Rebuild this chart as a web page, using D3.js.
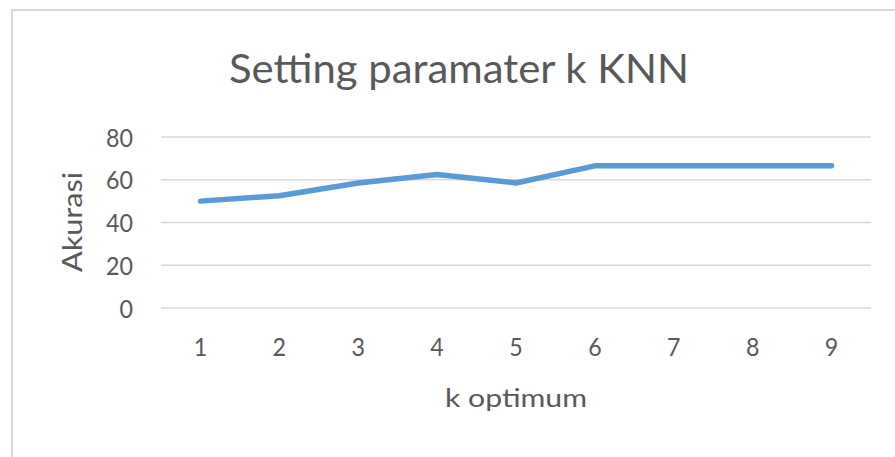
<!DOCTYPE html>
<html><head><meta charset="utf-8">
<script src="https://cdn.jsdelivr.net/npm/d3@7"></script>
<style>body{margin:0;background:#fff}svg{display:block}</style>
</head><body>
<script>
const categories = ["1","2","3","4","5","6","7","8","9"];
const accuracy = [50, 52.5, 58.5, 62.5, 58.5, 66.5, 66.5, 66.5, 66.5];
const yTicks = [0, 20, 40, 60, 80];
const title = "Setting paramater k KNN";
const xTitle = "k optimum";
const yTitle = "Akurasi";

const W = 895, H = 457;
const font = "Lato, 'Open Sans', sans-serif";
const textColor = "#595959";
const svg = d3.select("body").append("svg").attr("width", W).attr("height", H);

// frame
svg.append("rect").attr("x", 12).attr("y", 10).attr("width", W + 20).attr("height", H + 20)
  .attr("fill", "#fff").attr("stroke", "#d9d9d9").attr("stroke-width", 2);

const x = d3.scaleBand().domain(categories).range([161, 871]);
const y = d3.scaleLinear().domain([0, 80]).range([308, 137]);

// gridlines
svg.append("g").selectAll("line").data(yTicks).join("line")
  .attr("x1", 161).attr("x2", 871)
  .attr("y1", d => y(d)).attr("y2", d => y(d))
  .attr("stroke", "#d9d9d9").attr("stroke-width", 1.5);

// y axis labels
const yAxis = svg.append("g").attr("transform", "translate(133,0)")
  .call(d3.axisLeft(y).tickValues(yTicks).tickSize(0).tickPadding(0));
yAxis.select(".domain").remove();
yAxis.selectAll("text").attr("font-family", font).attr("font-size", 25)
  .attr("fill", textColor).attr("dy", "0.36em")
  .attr("textLength", d => String(d).length * 13.5).attr("lengthAdjust", "spacingAndGlyphs");

// x axis labels
const xAxis = svg.append("g").attr("transform", "translate(0,338)")
  .call(d3.axisBottom(x).tickSize(0).tickPadding(0));
xAxis.select(".domain").remove();
xAxis.selectAll("text").attr("font-family", font).attr("font-size", 25)
  .attr("fill", textColor).attr("dy", "0.71em")
  .attr("textLength", 13.5).attr("lengthAdjust", "spacingAndGlyphs");

// line
const line = d3.line().x((d, i) => x(categories[i]) + x.bandwidth() / 2).y(d => y(d));
svg.append("path").datum(accuracy).attr("d", line)
  .attr("fill", "none").attr("stroke", "#5b9bd5").attr("stroke-width", 5.5)
  .attr("stroke-linecap", "round").attr("stroke-linejoin", "round");

// titles
svg.append("text").attr("x", 459).attr("y", 83).attr("text-anchor", "middle")
  .attr("font-family", font).attr("font-size", 41).attr("fill", textColor)
  .attr("textLength", 460).attr("lengthAdjust", "spacingAndGlyphs").text(title);

svg.append("text").attr("x", 516).attr("y", 407).attr("text-anchor", "middle")
  .attr("font-family", font).attr("font-size", 25).attr("fill", textColor)
  .attr("textLength", 142).attr("lengthAdjust", "spacingAndGlyphs").text(xTitle);

svg.append("text").attr("transform", "translate(82,222) rotate(-90)").attr("text-anchor", "middle")
  .attr("font-family", font).attr("font-size", 26).attr("fill", textColor)
  .attr("textLength", 100).attr("lengthAdjust", "spacingAndGlyphs").text(yTitle);
</script>
</body></html>
